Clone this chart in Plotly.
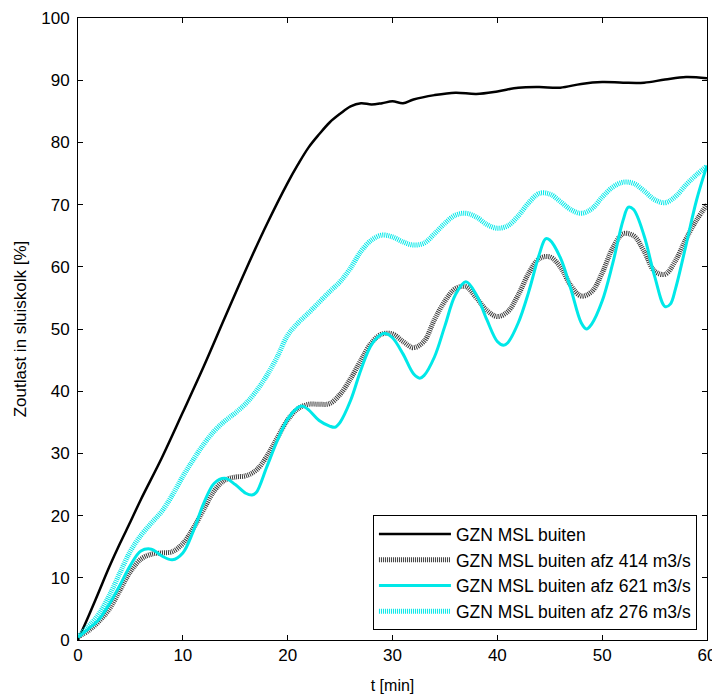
import plotly.graph_objects as go

# GZN MSL buiten
t_buiten = [0, 1, 2, 3, 4, 5, 6, 8, 10, 12, 14, 16, 18, 20, 21, 22, 23, 24, 25, 26,
            27, 28, 29, 30, 31, 32, 34, 36, 38, 40, 42, 44, 46, 48, 50, 52, 54, 56, 58, 60]
v_buiten = [0, 3.8, 7.8, 11.8, 15.5, 19, 22.6, 29.3, 36.6, 44, 51.8, 59.5, 66.8, 73.5, 76.5, 79.2, 81.3, 83.2, 84.6, 85.8,
            86.3, 86.1, 86.3, 86.6, 86.3, 86.9, 87.6, 88, 87.8, 88.2, 88.8, 88.9, 88.8, 89.4, 89.7, 89.6, 89.6, 90.1, 90.5, 90.3]

# GZN MSL buiten afz 414 m3/s
t_414 = [0, 1, 2, 3, 4, 5, 6, 7, 8, 9, 10, 11, 12, 13, 14, 15, 16, 17, 18, 19, 20,
         21, 22, 23, 24, 25, 26, 27, 28, 29, 30, 31, 32, 33, 34, 35, 36, 37, 38, 39, 40,
         41, 42, 43, 44, 45, 46, 47, 48, 49, 50, 51, 52, 53, 54, 55, 56, 57, 58, 59, 60]
v_414 = [0.5, 1.5, 3, 5, 8, 11, 13, 13.8, 14, 14.2, 15.5, 18, 21, 24, 25.7, 26.2, 26.4, 27.3, 29.5, 32.5, 35.4,
         37.2, 37.9, 37.9, 38, 39.5, 42, 45, 47.8, 49.2, 49.2, 48, 47, 48, 51.5, 54.5, 56.5, 56.8, 55, 53, 52,
         52.8, 55.5, 59, 61.3, 61.6, 60, 57, 55.3, 56, 59, 63, 65.3, 65, 62.5, 59.3, 58.8, 61, 64.5, 67.5, 70]

# GZN MSL buiten afz 621 m3/s
t_621 = [0, 1, 2, 3, 4, 5, 6, 7, 8, 9, 10, 11, 12, 13, 14, 15, 16, 16.6, 17, 18, 19, 20,
         21, 21.4, 22, 23, 24, 24.5, 25, 26, 27, 28, 29, 29.3, 30, 31, 32, 32.6, 33, 34, 35, 36, 37, 38, 39, 40,
         40.6, 41, 42, 43, 44, 44.6, 45, 46, 47, 48, 48.5, 49, 50, 51, 52, 52.5, 53, 54, 55, 56, 56.5, 57, 58, 59, 60]
v_621 = [0.5, 1.8, 3.3, 5.8, 8.8, 12, 14.3, 14.6, 13.5, 12.9, 14, 17.5, 22, 25.2, 26, 25, 23.6, 23.3, 23.7, 27.8, 32, 35.5,
         37.4, 37.6, 37, 35.3, 34.4, 34.2, 35, 38.5, 43.5, 47.5, 49.2, 49.3, 48.6, 46, 42.8, 42.1, 42.5, 45.5, 50.5, 55.5, 57.6, 55.5, 51.5, 48,
         47.4, 47.8, 51, 56, 62, 64.5, 64.3, 61.5, 56.5, 51, 50, 50.8, 54.5, 60.5, 67.5, 69.6, 69.2, 65, 58.5, 53.6, 54, 56.5, 63.5, 70.7, 76.3]

# GZN MSL buiten afz 276 m3/s
t_276 = [0, 1, 2, 3, 4, 5, 6, 7, 8, 9, 10, 11, 12, 13, 14, 15, 16, 17, 18, 19, 20,
         21, 22, 23, 24, 25, 26, 27, 28, 29, 30, 31, 32, 33, 34, 35, 36, 37, 38, 39, 40,
         41, 42, 43, 44, 45, 46, 47, 48, 49, 50, 51, 52, 53, 54, 55, 56, 57, 58, 59, 60]
v_276 = [0.5, 2.2, 4.2, 7.2, 10.8, 14.3, 16.8, 18.8, 20.7, 23.3, 26.3, 29, 31.5, 33.6, 35.2, 36.5, 38, 40, 42.5, 45.5, 49,
         51, 52.6, 54.3, 56, 57.6, 59.8, 62.5, 64.3, 65.1, 64.8, 64, 63.5, 63.8, 65.3, 67, 68.3, 68.6, 68, 66.8, 66.2,
         66.6, 68.2, 70.3, 71.8, 71.7, 70.5, 69.2, 68.6, 69.3, 71.2, 72.8, 73.6, 73.4, 72.2, 70.8, 70.3, 71.3, 73.2, 74.8, 76.2]

cyan = '#00e8e8'

fig = go.Figure()

fig.add_trace(go.Scatter(x=t_buiten, y=v_buiten, mode='lines', name='GZN MSL buiten',
                         line=dict(color='black', width=2.5, shape='spline')))
fig.add_trace(go.Scatter(x=t_414, y=v_414, mode='lines', name='GZN MSL buiten afz 414 m3/s',
                         line=dict(color='#3a3a3a', width=5, dash='1px,1px', shape='spline')))
fig.add_trace(go.Scatter(x=t_621, y=v_621, mode='lines', name='GZN MSL buiten afz 621 m3/s',
                         line=dict(color=cyan, width=3, shape='spline')))
fig.add_trace(go.Scatter(x=t_276, y=v_276, mode='lines', name='GZN MSL buiten afz 276 m3/s',
                         line=dict(color=cyan, width=5, dash='1px,1px', shape='spline')))

# page body has an 8px margin, so the figure is 8px smaller than the window
fig.update_layout(
    width=712, height=689,
    margin=dict(l=70, r=13, t=10, b=57),
    paper_bgcolor='white',
    plot_bgcolor='white',
    font=dict(family='Liberation Sans, Arial, sans-serif', size=17, color='black'),
    xaxis=dict(range=[0, 60], tickvals=[0, 10, 20, 30, 40, 50, 60],
               showgrid=False, zeroline=False, automargin=False,
               showline=True, linecolor='black', linewidth=1, mirror='ticks',
               ticks='inside', ticklen=5, tickcolor='black',
               tickfont=dict(size=17),
               title=dict(text='t [min]', font=dict(size=16), standoff=15)),
    yaxis=dict(range=[0, 100], tickvals=[0, 10, 20, 30, 40, 50, 60, 70, 80, 90, 100],
               showgrid=False, zeroline=False, automargin=False,
               showline=True, linecolor='black', linewidth=1, mirror='ticks',
               ticks='inside', ticklen=5, tickcolor='black',
               tickfont=dict(size=17), ticklabelstandoff=4,
               title=dict(text='Zoutlast in sluiskolk [%]', font=dict(size=17), standoff=10)),
    legend=dict(x=0.984, y=0.016, xanchor='right', yanchor='bottom',
                bgcolor='white', bordercolor='black', borderwidth=1,
                font=dict(size=17.5), itemwidth=72, tracegroupgap=0),
    showlegend=True,
)

fig.write_html("out.html")
